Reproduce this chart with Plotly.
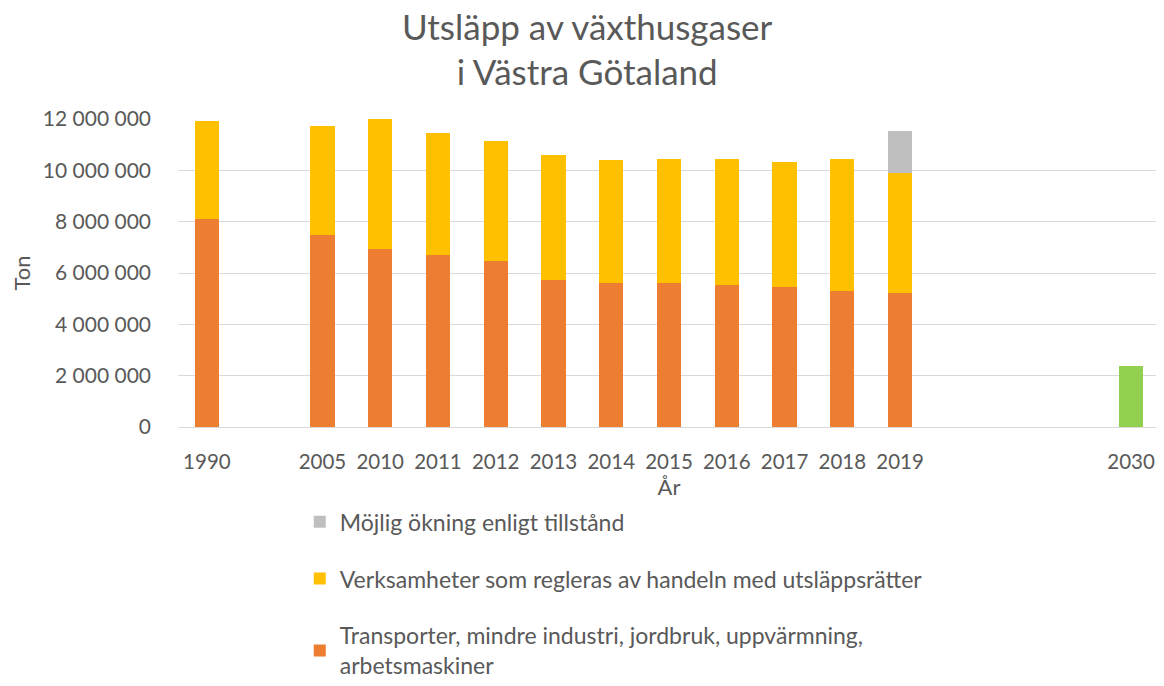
import plotly.graph_objects as go

categories = ["1990", " ", "2005", "2010", "2011", "2012", "2013", "2014", "2015",
              "2016", "2017", "2018", "2019", "  ", "   ", "    ", "2030"]
years = ["1990", "2005", "2010", "2011", "2012", "2013", "2014", "2015",
         "2016", "2017", "2018", "2019"]
transport = [8.10e6, 7.50e6, 6.92e6, 6.71e6, 6.45e6, 5.73e6, 5.60e6, 5.60e6,
             5.54e6, 5.47e6, 5.28e6, 5.21e6]
handel = [3.81e6, 4.21e6, 5.12e6, 4.74e6, 4.68e6, 4.88e6, 4.80e6, 4.86e6,
          4.92e6, 4.86e6, 5.18e6, 4.67e6]
okning_years = ["2019"]
okning = [1.64e6]
target_years = ["2030"]
target = [2.37e6]

names = ["Transporter, mindre industri, jordbruk, uppvärmning,<br>arbetsmaskiner",
         "Verksamheter som regleras av handeln med utsläppsrätter",
         "Möjlig ökning enligt tillstånd"]

FONT = "Lato, 'Open Sans', sans-serif"
GREY = "#595959"

fig = go.Figure()
fig.add_trace(go.Bar(x=years, y=transport, name=names[0], marker_color="#ED7D31",
                     marker_line_width=0, legendgroup="a", legendrank=3))
fig.add_trace(go.Bar(x=years, y=handel, name=names[1], marker_color="#FFC000",
                     marker_line_width=0, legendgroup="b", legendrank=2))
fig.add_trace(go.Bar(x=okning_years, y=okning, name=names[2], marker_color="#BFBFBF",
                     marker_line_width=0, legendgroup="c", legendrank=1))
fig.add_trace(go.Bar(x=target_years, y=target, name="2030", marker_color="#92D050",
                     marker_line_width=0, showlegend=False, legendgroup="d"))

fig.update_layout(
    barmode="stack",
    bargap=0.58,
    width=1156, height=678,
    paper_bgcolor="white", plot_bgcolor="white",
    separators=", ",
    font=dict(family=FONT, color=GREY, size=21),
    margin=dict(l=170, r=4, t=111, b=259, autoexpand=False),
    title=dict(text="Utsläpp av växthusgaser<br>i Västra Götaland",
               x=0.501, xanchor="center", xref="container",
               y=0.953, yanchor="top", yref="container",
               font=dict(family=FONT, size=35, color=GREY)),
    xaxis=dict(type="category", categoryorder="array", categoryarray=categories,
               range=[-0.5, len(categories) - 0.5],
               showgrid=False, showline=True, linecolor="#D9D9D9", linewidth=1,
               ticks="", tickfont=dict(size=20.5, color=GREY),
               ticklabelstandoff=16,
               title=dict(text="År", font=dict(size=22, color=GREY), standoff=13)),
    yaxis=dict(range=[0, 12e6], tickvals=[0, 2e6, 4e6, 6e6, 8e6, 10e6, 12e6],
               tickformat=",d", showgrid=True, gridcolor="#D9D9D9", gridwidth=1,
               zeroline=False, showline=False, ticks="",
               ticklabelstandoff=26,
               tickfont=dict(size=21, color=GREY),
               title=dict(text="Ton", font=dict(size=22, color=GREY), standoff=13)),
    legend=dict(orientation="v", x=0.124, xanchor="left",
                y=0.274, yanchor="top", yref="container",
                traceorder="grouped", tracegroupgap=24,
                font=dict(size=23, color=GREY), bgcolor="rgba(0,0,0,0)"),
)

fig.write_html("out.html")
